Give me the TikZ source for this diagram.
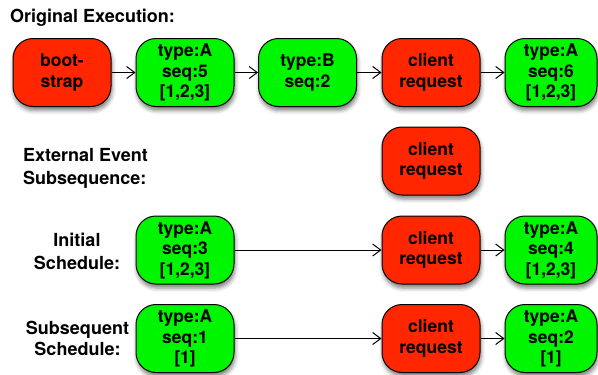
\documentclass[tikz,border=0pt]{standalone}
\usepackage{fontspec}
\setmainfont{TeX Gyre Heros}
\usetikzlibrary{arrows.meta,shadows.blur}
\definecolor{evred}{RGB}{255,38,0}
\definecolor{evgreen}{RGB}{0,245,0}
\tikzset{
  event/.style={draw=black, line width=1pt, rounded corners=20pt,
    minimum width=98pt, minimum height=68pt, inner sep=0pt,
    align=center, font=\fontsize{17.5}{20.5}\selectfont\bfseries,
    blur shadow={shadow xshift=1pt, shadow yshift=-4pt, shadow blur radius=4pt, shadow opacity=50}},
  ext/.style={event, fill=evred},
  msg/.style={event, fill=evgreen},
  rowlabel/.style={font=\fontsize{18}{23}\selectfont\bfseries, inner sep=0pt},
  flow/.style={line width=1pt, -{Straight Barb[length=8pt,width=12pt,line width=1pt]}}
}
\begin{document}
\begin{tikzpicture}[x=1pt,y=-1pt]
\useasboundingbox (0,0) rectangle (598,375);

% headings
\node[rowlabel, anchor=west] (title) at (10,18) {Original Execution:};
\node[rowlabel, anchor=west, align=left] (extlabel) at (23,168) {External Event\\Subsequence:};
\node[rowlabel, align=center] (initlabel) at (77,251) {Initial\\Schedule:};
\node[rowlabel, align=center, font=\fontsize{18}{21}\selectfont\bfseries] (sublabel) at (77.5,338) {Subsequent\\Schedule:};

% original execution
\node[ext] (boot) at (62,72.5) {boot-\\strap};
\node[msg] (a5) at (185,72.5) {type:A\\seq:5\\{[1,2,3]}};
\node[msg] (b2) at (307.5,72.5) {type:B\\seq:2};
\node[ext] (cr1) at (431,72.5) {client\\request};
\node[msg, minimum width=92pt] (a6) at (551,72.5) {type:A\\seq:6\\{[1,2,3]}};

% external event subsequence
\node[ext] (cr2) at (431,161) {client\\request};

% initial schedule
\node[msg] (a3) at (185,250) {type:A\\seq:3\\{[1,2,3]}};
\node[ext] (cr3) at (431,250) {client\\request};
\node[msg, minimum width=92pt] (a4) at (551,250) {type:A\\seq:4\\{[1,2,3]}};

% subsequent schedule
\node[msg] (a1) at (185,338.5) {type:A\\seq:1\\{[1]}};
\node[ext] (cr4) at (431,338.5) {client\\request};
\node[msg, minimum width=92pt] (a2) at (551,338.5) {type:A\\seq:2\\{[1]}};

% connectors
\draw[flow] (boot) -- (a5);
\draw[flow] (a5) -- (b2);
\draw[flow] (b2) -- (cr1);
\draw[flow] (cr1) -- (a6);
\draw[flow] (a3) -- (cr3);
\draw[flow] (cr3) -- (a4);
\draw[flow] (a1) -- (cr4);
\draw[flow] (cr4) -- (a2);
\end{tikzpicture}
\end{document}
